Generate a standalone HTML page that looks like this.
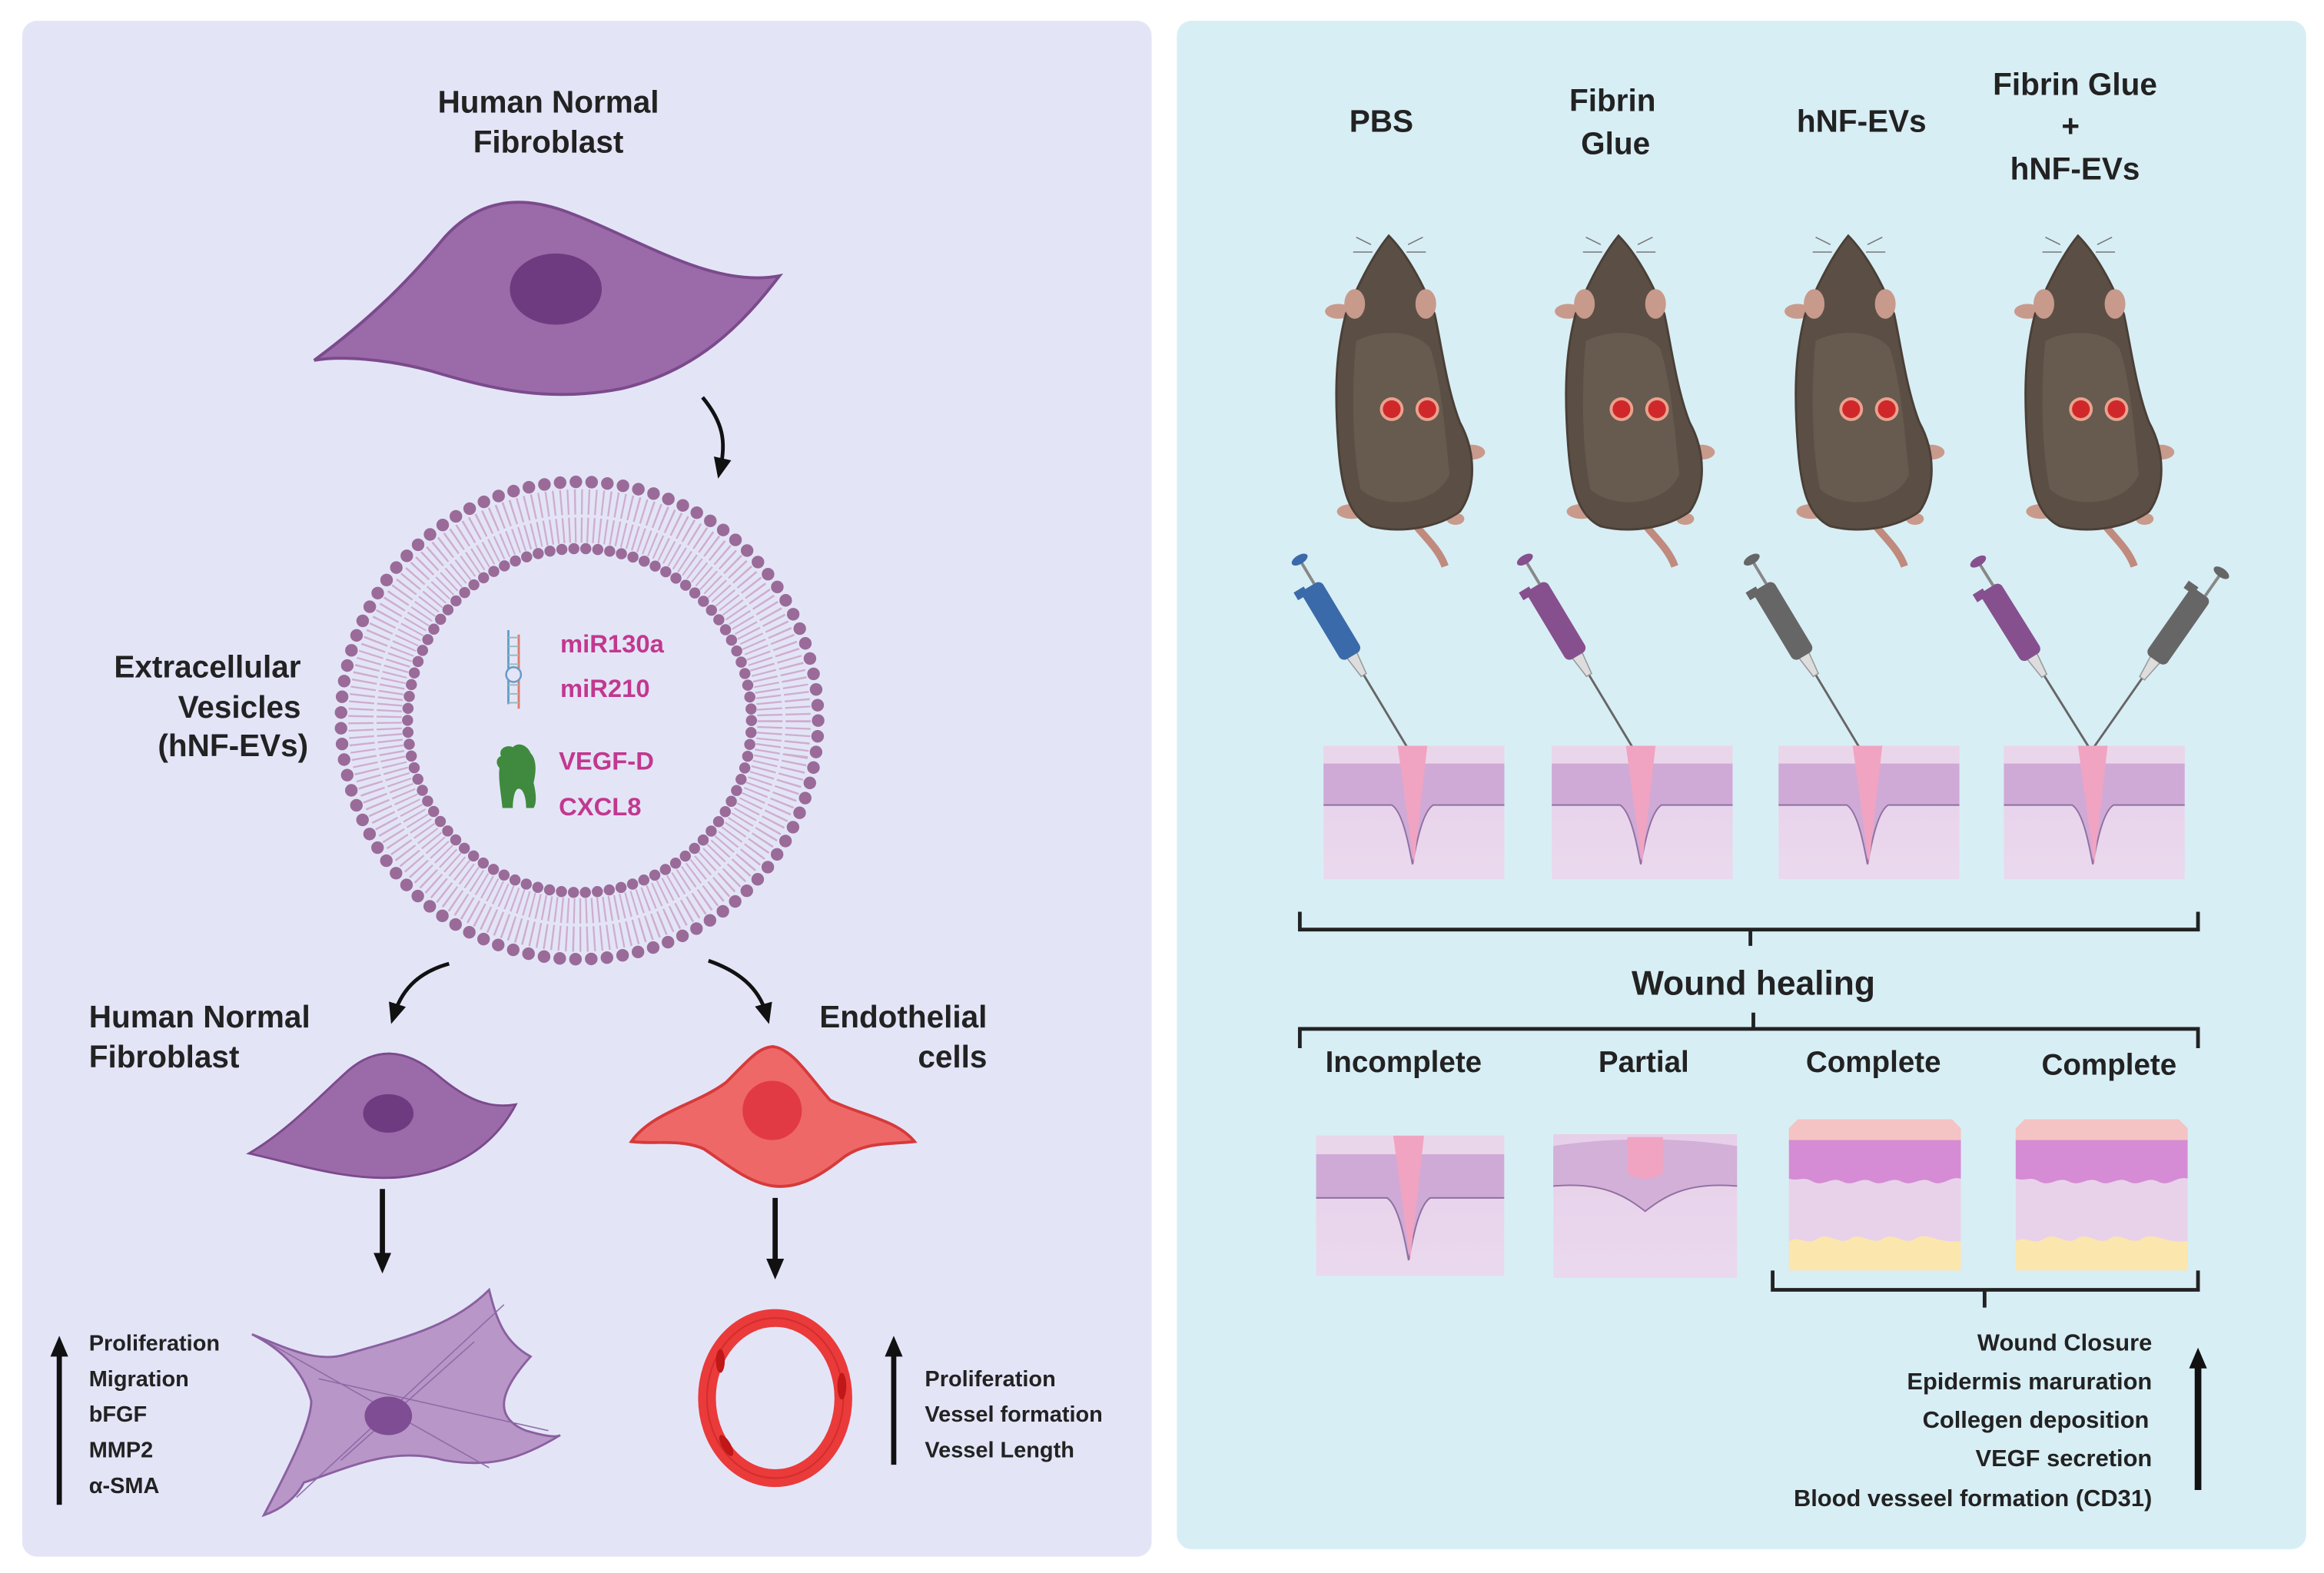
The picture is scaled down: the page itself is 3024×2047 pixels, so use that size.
<!DOCTYPE html>
<html><head><meta charset="utf-8"><style>
html,body{margin:0;padding:0;background:#fff;}
svg{display:block;}
text{font-family:"Liberation Sans",sans-serif;font-weight:bold;fill:#222;}
</style></head><body>
<svg width="3024" height="2047" viewBox="0 0 1568 1061" preserveAspectRatio="none" xmlns="http://www.w3.org/2000/svg">
<defs>
<marker id="ah" markerWidth="14" markerHeight="14" refX="7" refY="7" orient="auto" markerUnits="userSpaceOnUse"><path d="M0,1 L14,7 L0,13 Z" fill="#111"/></marker>
<linearGradient id="derm" x1="0" y1="0" x2="0" y2="1"><stop offset="0" stop-color="#e7cfe9"/><stop offset="1" stop-color="#ead9ee"/></linearGradient>
<g id="mouse">
 <path d="M948,345 C958,360 970,368 975,382" stroke="#c08a7e" stroke-width="5" fill="none"/>
 <ellipse cx="903" cy="210" rx="9" ry="5" fill="#c89a8c"/>
 <ellipse cx="993" cy="305" rx="9" ry="5" fill="#c89a8c"/>
 <ellipse cx="912" cy="345" rx="10" ry="5" fill="#c89a8c"/>
 <ellipse cx="982" cy="350" rx="6" ry="4" fill="#c89a8c"/>
 <path d="M937,159 C928,170 918,188 908,212 C902,235 900,260 903,300 C905,330 910,348 925,355 C945,360 970,356 985,345 C996,330 996,305 985,285 C976,262 972,230 968,212 C960,190 948,170 937,159 Z" fill="#5b4f45" stroke="#4a3f37" stroke-width="1.5"/>
 <path d="M915,230 C930,222 955,222 965,235 C972,255 975,290 978,320 C970,340 935,345 918,330 C912,300 912,260 915,230 Z" fill="#675a4f"/>
 <ellipse cx="914" cy="205" rx="7" ry="10" fill="#c89a8c"/>
 <ellipse cx="962" cy="205" rx="7" ry="10" fill="#c89a8c"/>
 <circle cx="939" cy="276" r="8" fill="#e8a28e"/><circle cx="939" cy="276" r="6" fill="#d0282a"/>
 <circle cx="963" cy="276" r="8" fill="#e8a28e"/><circle cx="963" cy="276" r="6" fill="#d0282a"/>
 <path d="M925,165 L915,160 M950,165 L960,160 M926,170 L913,170 M949,170 L962,170" stroke="#777" stroke-width="0.8"/>
</g>
<g id="pip">
 <line x1="0" y1="0" x2="0" y2="-60" stroke="#666" stroke-width="1.5"/>
 <path d="M-2,-58 L-4,-75 L4,-75 L2,-58 Z" fill="#ddd" stroke="#999" stroke-width="0.8"/>
 <rect x="-8" y="-128" width="16" height="55" rx="4"/>
 <rect x="-12" y="-130" width="8" height="6"/>
 <line x1="3" y1="-128" x2="3" y2="-145" stroke="#888" stroke-width="2"/>
 <ellipse cx="3" cy="-147" rx="6" ry="3"/>
</g>
<g id="skin">
 <rect x="0" y="0" width="122" height="90" fill="url(#derm)"/>
 <rect x="0" y="0" width="122" height="12" fill="#ead6ea"/>
 <path d="M0,12 L122,12 L122,40 L74,40 C66,45 62,70 60,80 C58,70 54,45 46,40 L0,40 Z" fill="#cfaad6"/>
 <path d="M0,40 L46,40 C54,45 58,70 60,80 C62,70 66,45 74,40 L122,40" stroke="#8f70a0" stroke-width="1" fill="none"/>
 <polygon points="50,0 70,0 61,80" fill="#f0a4c2"/>
</g>
<g id="complete">
 <path d="M6,0 L110,0 L116,6 L116,102 L0,102 L0,6 Z" fill="#e8d2ea"/>
 <path d="M0,6 L6,0 L110,0 L116,6 L116,18 L0,18 Z" fill="#f4c3c3"/>
 <path d="M0,14 L116,14 L116,40 C108,38 104,46 96,42 C88,38 84,46 76,42 C68,38 64,46 56,42 C48,38 44,46 36,42 C28,38 24,46 16,42 C10,38 6,42 0,40 Z" fill="#d58cd4"/>
 <path d="M0,82 C8,78 12,86 20,80 C28,76 34,86 42,80 C50,76 56,86 64,80 C72,76 78,86 86,80 C94,76 100,84 116,82 L116,102 L0,102 Z" fill="#fbe6ae"/>
</g>
</defs>

<rect x="15" y="14" width="762" height="1036" rx="10" fill="#e3e5f7"/>
<rect x="794" y="14" width="762" height="1031" rx="10" fill="#d8eef5"/>

<text x="370" y="76" font-size="21" text-anchor="middle">Human Normal</text>
<text x="370" y="103" font-size="21" text-anchor="middle">Fibroblast</text>
<path d="M212,243 C250,215 275,190 300,160 C320,138 345,130 380,142 C430,160 480,195 526,186 C500,220 470,250 420,262 C370,272 330,262 290,250 C260,242 230,240 212,243 Z" fill="#9b6aa8" stroke="#7b4a8c" stroke-width="2"/>
<ellipse cx="375" cy="195" rx="31" ry="24" fill="#6f3b80"/>
<path d="M474,268 C488,285 490,298 486,316" stroke="#111" stroke-width="2.5" fill="none" marker-end="url(#ah)"/>

<circle cx="391" cy="486" r="138" fill="none" stroke="#c89ac0" stroke-width="36" stroke-dasharray="1.2 3.2" opacity="0.75"/>
<circle cx="391" cy="486" r="138" fill="none" stroke="#e3e5f7" stroke-width="2"/>
<circle cx="391" cy="486" r="161" fill="none" stroke="#9a6b98" stroke-width="8.5" stroke-dasharray="0 10.65" stroke-linecap="round"/>
<circle cx="391" cy="486" r="116" fill="none" stroke="#9a6b98" stroke-width="7.5" stroke-dasharray="0 8.1" stroke-linecap="round"/>
<text x="203" y="457" font-size="21" text-anchor="end">Extracellular</text>
<text x="203" y="484" font-size="21" text-anchor="end">Vesicles</text>
<text x="208" y="510" font-size="21" text-anchor="end">(hNF-EVs)</text>
<line x1="343" y1="425" x2="343" y2="475" stroke="#5fa0c8" stroke-width="1.5"/>
<line x1="350" y1="428" x2="350" y2="478" stroke="#e07a6a" stroke-width="1.5"/>
<path d="M343,430 H350 M343,436 H350 M343,442 H350 M343,448 H350 M343,462 H350 M343,468 H350 M343,474 H350" stroke="#9bb" stroke-width="1"/>
<circle cx="346.5" cy="455" r="5" fill="#e3e5f7" stroke="#6a9ac8" stroke-width="1.3"/>
<text x="378" y="440" font-size="17" style="fill:#c2388f">miR130a</text>
<text x="378" y="470" font-size="17" style="fill:#c2388f">miR210</text>
<path d="M338,510 C336,505 342,502 346,504 C350,500 356,503 358,508 C362,512 362,520 360,528 C362,536 362,542 360,545 L355,545 C355,538 353,532 350,532 C347,532 346,540 346,545 L339,545 C338,535 336,525 337,518 C334,515 335,511 338,510 Z" fill="#3f8a3f"/>
<text x="377" y="519" font-size="17" style="fill:#c2388f">VEGF-D</text>
<text x="377" y="550" font-size="17" style="fill:#c2388f">CXCL8</text>

<path d="M303,650 C285,655 272,665 266,684" stroke="#111" stroke-width="2.5" fill="none" marker-end="url(#ah)"/>
<path d="M478,648 C498,655 512,666 517,684" stroke="#111" stroke-width="2.5" fill="none" marker-end="url(#ah)"/>

<text x="60" y="693" font-size="21">Human Normal</text>
<text x="60" y="720" font-size="21">Fibroblast</text>
<text x="666" y="693" font-size="21" text-anchor="end">Endothelial</text>
<text x="666" y="720" font-size="21" text-anchor="end">cells</text>

<path d="M168,778 C195,762 215,740 235,722 C255,705 275,708 295,725 C315,742 330,748 348,745 C335,770 310,790 270,794 C235,797 200,785 168,778 Z" fill="#9b6aa8" stroke="#7b4a8c" stroke-width="1.5"/>
<ellipse cx="262" cy="751" rx="17" ry="13" fill="#6f3b80"/>
<path d="M426,770 C440,750 470,745 490,730 C505,715 512,706 522,706 C535,708 545,725 560,742 C580,752 605,755 617,770 C600,772 585,770 570,780 C555,792 540,802 522,800 C505,798 490,785 475,775 C460,768 440,772 426,770 Z" fill="#ee6868" stroke="#d63a3a" stroke-width="2"/>
<circle cx="521" cy="749" r="20" fill="#e23a44"/>

<line x1="258" y1="802" x2="258" y2="852" stroke="#111" stroke-width="3.5" marker-end="url(#ah)"/>
<line x1="523" y1="808" x2="523" y2="856" stroke="#111" stroke-width="3.5" marker-end="url(#ah)"/>

<path d="M170,900 C195,910 215,920 235,913 C270,903 305,895 330,870 C335,890 340,905 358,915 C340,935 330,955 355,965 C365,968 375,970 378,968 C350,985 330,990 300,985 C265,975 235,990 205,1000 C200,1010 190,1018 178,1022 C195,990 210,960 210,945 C205,925 190,910 170,900 Z" fill="#b896c8" stroke="#8a60a0" stroke-width="1.5"/>
<path d="M180,905 L330,990 M200,1010 L340,880 M215,930 L370,965 M230,985 L320,905" stroke="#8f6aa6" stroke-width="0.8" fill="none"/>
<ellipse cx="262" cy="955" rx="16" ry="13" fill="#7e4d93"/>
<ellipse cx="523" cy="943" rx="46" ry="54" fill="none" stroke="#ea3a3a" stroke-width="12"/>
<ellipse cx="523" cy="943" rx="46" ry="54" fill="none" stroke="#b82020" stroke-width="1" opacity="0.5"/>
<ellipse cx="486" cy="918" rx="3" ry="8" fill="#c01818"/><ellipse cx="568" cy="935" rx="3" ry="9" fill="#c01818"/><ellipse cx="490" cy="975" rx="3" ry="8" fill="#c01818" transform="rotate(-30 490 975)"/>

<line x1="40" y1="1015" x2="40" y2="908" stroke="#111" stroke-width="3.5" marker-end="url(#ah)"/>
<line x1="603" y1="988" x2="603" y2="908" stroke="#111" stroke-width="3.5" marker-end="url(#ah)"/>
<text x="60" y="911" font-size="15">Proliferation</text>
<text x="60" y="935" font-size="15">Migration</text>
<text x="60" y="959" font-size="15">bFGF</text>
<text x="60" y="983" font-size="15">MMP2</text>
<text x="60" y="1007" font-size="15">α-SMA</text>
<text x="624" y="935" font-size="15">Proliferation</text>
<text x="624" y="959" font-size="15">Vessel formation</text>
<text x="624" y="983" font-size="15">Vessel Length</text>

<text x="932" y="89" font-size="21" text-anchor="middle">PBS</text>
<text x="1088" y="75" font-size="21" text-anchor="middle">Fibrin</text>
<text x="1090" y="104" font-size="21" text-anchor="middle">Glue</text>
<text x="1256" y="89" font-size="21" text-anchor="middle">hNF-EVs</text>
<text x="1400" y="64" font-size="21" text-anchor="middle">Fibrin Glue</text>
<text x="1397" y="92" font-size="21" text-anchor="middle">+</text>
<text x="1400" y="121" font-size="21" text-anchor="middle">hNF-EVs</text>

<use href="#mouse"/>
<use href="#mouse" transform="translate(155,0)"/>
<use href="#mouse" transform="translate(310,0)"/>
<use href="#mouse" transform="translate(465,0)"/>

<use href="#pip" transform="translate(950,505) rotate(-31)" fill="#3a6aaa"/>
<use href="#pip" transform="translate(1102,505) rotate(-31)" fill="#86508e"/>
<use href="#pip" transform="translate(1255,505) rotate(-31)" fill="#666"/>
<use href="#pip" transform="translate(1410,505) rotate(-32)" fill="#86508e"/>
<use href="#pip" transform="translate(1412,505) rotate(35)" fill="#666"/>

<use href="#skin" transform="translate(893,503)"/>
<use href="#skin" transform="translate(1047,503)"/>
<use href="#skin" transform="translate(1200,503)"/>
<use href="#skin" transform="translate(1352,503)"/>

<path d="M877,615 V627 H1483 V615 M1181,627 V638" stroke="#222" stroke-width="2.5" fill="none"/>
<text x="1183" y="671" font-size="23" text-anchor="middle">Wound healing</text>
<path d="M877,707 V694 H1483 V707 M1183,694 V683" stroke="#222" stroke-width="2.5" fill="none"/>
<text x="947" y="723" font-size="20" text-anchor="middle">Incomplete</text>
<text x="1109" y="723" font-size="20" text-anchor="middle">Partial</text>
<text x="1264" y="723" font-size="20" text-anchor="middle">Complete</text>
<text x="1423" y="725" font-size="20" text-anchor="middle">Complete</text>

<use href="#skin" transform="translate(888,766) scale(1.04,1.05)"/>
<g transform="translate(1048,765)">
 <rect x="0" y="0" width="124" height="97" fill="url(#derm)"/>
 <path d="M0,8 C40,2 84,2 124,8 L124,35 C90,32 75,42 62,52 C49,42 34,32 0,35 Z" fill="#d2b0d8"/>
 <path d="M0,35 C34,32 49,42 62,52 C75,42 90,32 124,35" stroke="#8f70a0" stroke-width="1" fill="none"/>
 <path d="M50,2 L74,2 L74,24 C74,32 50,32 50,24 Z" fill="#f0a4c2"/>
</g>
<use href="#complete" transform="translate(1207,755)"/>
<use href="#complete" transform="translate(1360,755)"/>

<path d="M1196,857 V870 H1483 V857 M1339,870 V882" stroke="#222" stroke-width="2.5" fill="none"/>
<text x="1452" y="911" font-size="16" text-anchor="end">Wound Closure</text>
<text x="1452" y="937" font-size="16" text-anchor="end">Epidermis maruration</text>
<text x="1450" y="963" font-size="16" text-anchor="end">Collegen deposition</text>
<text x="1452" y="989" font-size="16" text-anchor="end">VEGF secretion</text>
<text x="1452" y="1016" font-size="16" text-anchor="end">Blood vesseel formation (CD31)</text>
<line x1="1483" y1="1005" x2="1483" y2="916" stroke="#111" stroke-width="4.5" marker-end="url(#ah)"/>
</svg>
</body></html>
